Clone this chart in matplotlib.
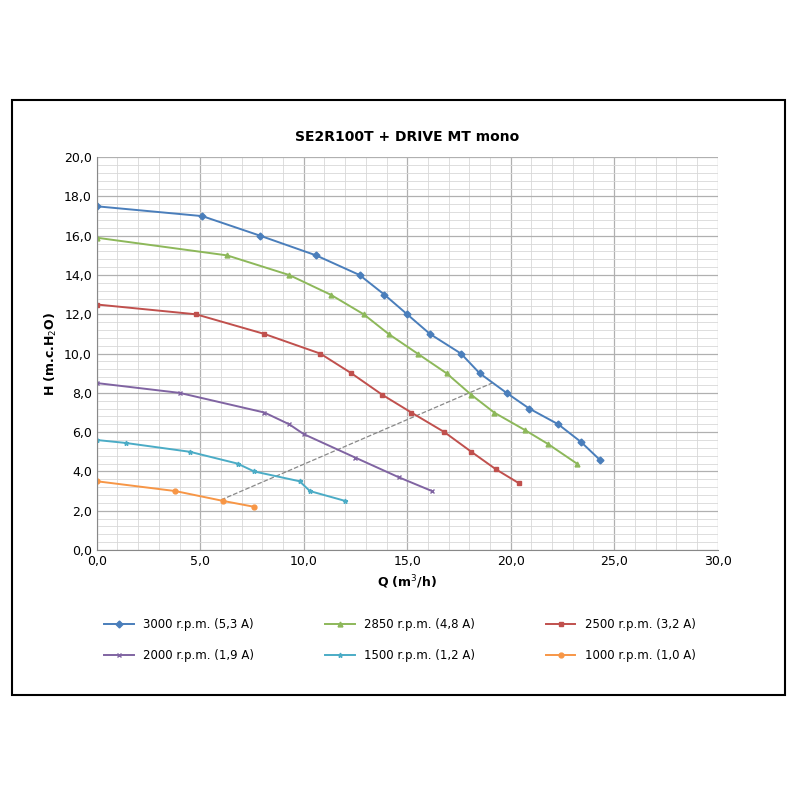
import matplotlib
matplotlib.use("Agg")
import matplotlib.pyplot as plt
from matplotlib.patches import Rectangle
import numpy as np

# Pump curves: Q (m3/h) vs H (m)
Q_3000 = [0, 5.1, 7.9, 10.6, 12.7, 13.9, 15.0, 16.1, 17.6, 18.5, 19.8, 20.9, 22.3, 23.4, 24.3]
H_3000 = [17.5, 17.0, 16.0, 15.0, 14.0, 13.0, 12.0, 11.0, 10.0, 9.0, 8.0, 7.2, 6.4, 5.5, 4.6]
Q_2850 = [0, 6.3, 9.3, 11.3, 12.9, 14.1, 15.5, 16.9, 18.1, 19.2, 20.7, 21.8, 23.2]
H_2850 = [15.9, 15.0, 14.0, 13.0, 12.0, 11.0, 10.0, 9.0, 7.9, 7.0, 6.1, 5.4, 4.4]
Q_2500 = [0, 4.8, 8.1, 10.8, 12.3, 13.8, 15.2, 16.8, 18.1, 19.3, 20.4]
H_2500 = [12.5, 12.0, 11.0, 10.0, 9.0, 7.9, 7.0, 6.0, 5.0, 4.1, 3.4]
Q_2000 = [0, 4.0, 8.1, 9.3, 10.0, 12.5, 14.6, 16.2]
H_2000 = [8.5, 8.0, 7.0, 6.4, 5.9, 4.7, 3.7, 3.0]
Q_1500 = [0, 1.4, 4.5, 6.8, 7.6, 9.8, 10.3, 12.0]
H_1500 = [5.6, 5.45, 5.0, 4.4, 4.0, 3.5, 3.0, 2.5]
Q_1000 = [0, 3.8, 6.1, 7.6]
H_1000 = [3.5, 3.0, 2.5, 2.2]
Q_sys = [6.0, 19.1]
H_sys = [2.55, 8.5]

series = [
    ("3000 r.p.m. (5,3 A)", Q_3000, H_3000, "#4a7ebb", "D"),
    ("2850 r.p.m. (4,8 A)", Q_2850, H_2850, "#8db85a", "^"),
    ("2500 r.p.m. (3,2 A)", Q_2500, H_2500, "#c0504d", "s"),
    ("2000 r.p.m. (1,9 A)", Q_2000, H_2000, "#8064a2", "x"),
    ("1500 r.p.m. (1,2 A)", Q_1500, H_1500, "#4bacc6", "*"),
    ("1000 r.p.m. (1,0 A)", Q_1000, H_1000, "#f79646", "o"),
]

fig = plt.figure(figsize=(8, 8), dpi=100)
fig.patches.append(Rectangle((0.015, 0.131), 0.966, 0.744, transform=fig.transFigure,
                             fill=False, edgecolor="black", linewidth=1.5))
ax = fig.add_axes([0.121, 0.3125, 0.776, 0.491])

ax.set_xlim(0, 30)
ax.set_ylim(0, 20)
ax.set_xticks(np.arange(0, 31, 5))
ax.set_yticks(np.arange(0, 21, 2))
ax.set_xticks(np.arange(0, 31, 1), minor=True)
ax.set_yticks(np.arange(0, 20.01, 0.4), minor=True)
ax.grid(which="major", color="#b0b0b0", linewidth=0.9)
ax.grid(which="minor", color="#d8d8d8", linewidth=0.6)
ax.set_axisbelow(True)
ax.tick_params(which="both", length=0, labelsize=9)
ax.set_xticklabels([f"{v:.1f}".replace(".", ",") for v in np.arange(0, 31, 5)])
ax.set_yticklabels([f"{v:.1f}".replace(".", ",") for v in np.arange(0, 21, 2)])
for s in ["top", "right"]:
    ax.spines[s].set_visible(False)
for s in ["left", "bottom"]:
    ax.spines[s].set_color("#888888")

ax.plot(Q_sys, H_sys, color="#888888", linestyle="--", linewidth=0.9)
handles = []
for label, q, h, c, m in series:
    ln, = ax.plot(q, h, color=c, marker=m, markersize=3.5, linewidth=1.4, label=label)
    handles.append(ln)

ax.set_title("SE2R100T + DRIVE MT mono", fontsize=10, fontweight="bold", pad=12)
ax.set_xlabel("Q (m$^3$/h)", fontsize=9, fontweight="bold")
ax.set_ylabel("H (m.c.H$_2$O)", fontsize=9, fontweight="bold")

# legend fills column-wise; reorder so rows read like the original
order = [0, 3, 1, 4, 2, 5]
fig.legend(handles=[handles[i] for i in order], loc="center", bbox_to_anchor=(0.5, 0.20),
           ncol=3, frameon=False, fontsize=8.5, columnspacing=6, handlelength=2.5,
           labelspacing=1.5)

fig.savefig("out.png", dpi=100)
